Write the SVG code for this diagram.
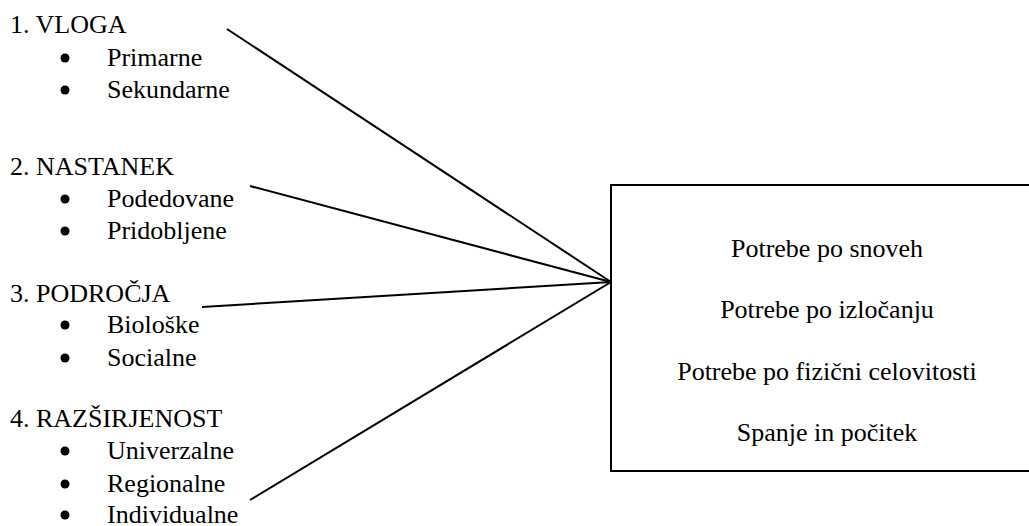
<svg xmlns="http://www.w3.org/2000/svg" width="1029" height="526" viewBox="0 0 1029 526">
  <style>
    text { font-family: "Liberation Serif", Tinos, "Noto Serif", "DejaVu Serif", Times, serif; font-size: 26px; fill: #000; }
    .mid { text-anchor: middle; }
    .dot { fill: #000; }
    .conn line { stroke: #000; stroke-width: 2; stroke-linecap: butt; }
  </style>
  <defs>
    <circle id="bullet" r="4.5"/>
  </defs>

  <g id="vloga">
    <text x="10" y="33">1. VLOGA</text>
    <use href="#bullet" class="dot" x="65" y="58"/>
    <text x="107" y="66">Primarne</text>
    <use href="#bullet" class="dot" x="65" y="90"/>
    <text x="107" y="98">Sekundarne</text>
  </g>

  <g id="nastanek">
    <text x="10" y="175">2. NASTANEK</text>
    <use href="#bullet" class="dot" x="65" y="199"/>
    <text x="107" y="207">Podedovane</text>
    <use href="#bullet" class="dot" x="65" y="231"/>
    <text x="107" y="239">Pridobljene</text>
  </g>

  <g id="podrocja">
    <text x="10" y="302">3. PODROČJA</text>
    <use href="#bullet" class="dot" x="65" y="325"/>
    <text x="107" y="333">Biološke</text>
    <use href="#bullet" class="dot" x="65" y="358"/>
    <text x="107" y="366">Socialne</text>
  </g>

  <g id="razsirjenost">
    <text x="10" y="427">4. RAZŠIRJENOST</text>
    <use href="#bullet" class="dot" x="65" y="451"/>
    <text x="107" y="459">Univerzalne</text>
    <use href="#bullet" class="dot" x="65" y="484"/>
    <text x="107" y="492">Regionalne</text>
    <use href="#bullet" class="dot" x="65" y="515"/>
    <text x="107" y="523">Individualne</text>
  </g>

  <g id="potrebe">
    <rect x="611" y="185" width="430" height="286" fill="#fff" stroke="#000" stroke-width="2"/>
    <text class="mid" x="827" y="257">Potrebe po snoveh</text>
    <text class="mid" x="827" y="318">Potrebe po izločanju</text>
    <text class="mid" x="827" y="380">Potrebe po fizični celovitosti</text>
    <text class="mid" x="827" y="441">Spanje in počitek</text>
  </g>

  <g class="conn" id="connectors">
    <line x1="227" y1="29" x2="611" y2="282"/>
    <line x1="250" y1="186" x2="611" y2="282"/>
    <line x1="202" y1="307" x2="611" y2="282"/>
    <line x1="250" y1="500" x2="611" y2="282"/>
  </g>
</svg>
